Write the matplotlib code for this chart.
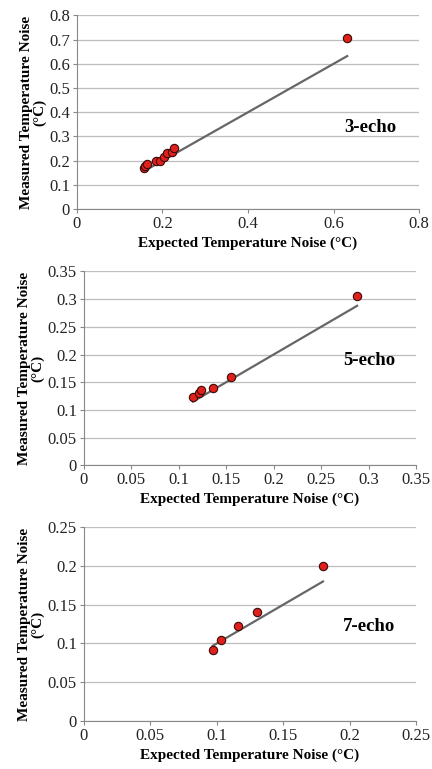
import numpy as np
import matplotlib.pyplot as plt

plt.rcParams['font.family'] = ['Liberation Serif', 'DejaVu Serif']

# ----- data -----
x3 = [0.158, 0.160, 0.163, 0.185, 0.195, 0.203, 0.210, 0.222, 0.227, 0.632]
y3 = [0.170, 0.180, 0.185, 0.200, 0.200, 0.215, 0.232, 0.235, 0.252, 0.708]
fit3 = [0.158, 0.632]

x5 = [0.115, 0.121, 0.123, 0.136, 0.155, 0.288]
y5 = [0.124, 0.130, 0.136, 0.140, 0.160, 0.305]
fit5 = [0.115, 0.288]

x7 = [0.097, 0.103, 0.116, 0.130, 0.180]
y7 = [0.091, 0.105, 0.122, 0.141, 0.200]
fit7 = [0.097, 0.180]

labels = ['3-echo', '5-echo', '7-echo']
limits = [0.8, 0.35, 0.25]
steps = [0.1, 0.05, 0.05]
xsteps = [0.2, 0.05, 0.05]
label_y = [0.338, 0.189, 0.122]

panels = [
    (x3, y3, fit3),
    (x5, y5, fit5),
    (x7, y7, fit7),
]
boxes = [
    [0.178, 0.728, 0.792, 0.252],
    [0.194, 0.395, 0.769, 0.252],
    [0.194, 0.0624, 0.769, 0.252],
]

fig = plt.figure(figsize=(4.32, 7.69), dpi=100)

for i, (xs, ys, fit) in enumerate(panels):
    ax = fig.add_axes(boxes[i])
    lim = limits[i]

    ax.plot(fit, fit, color='#666666', lw=1.6, zorder=2)
    ax.plot(xs, ys, 'o', ms=6, mfc='#e0201b', mec='#3a0a0a', mew=0.8, zorder=3)

    ax.set_xlim(0, lim)
    ax.set_ylim(0, lim)
    ax.set_xticks(np.round(np.arange(0, lim + 1e-9, xsteps[i]), 3))
    ax.set_yticks(np.round(np.arange(0, lim + 1e-9, steps[i]), 3))
    ax.set_xticklabels([f"{t:g}" for t in ax.get_xticks()])
    ax.set_yticklabels([f"{t:g}" for t in ax.get_yticks()])

    ax.yaxis.grid(True, color='#bdbdbd', lw=0.9)
    ax.set_axisbelow(True)
    for s in ['top', 'right']:
        ax.spines[s].set_visible(False)
    for s in ['left', 'bottom']:
        ax.spines[s].set_color('#888888')
    ax.tick_params(colors='#888888', labelcolor='#222222', labelsize=12, length=3, pad=2)

    ax.set_xlabel('Expected Temperature Noise (°C)', fontsize=11, fontweight='bold', labelpad=3)
    ax.set_ylabel('Measured Temperature Noise\n(°C)', fontsize=11, fontweight='bold',
                  linespacing=1.0, labelpad=2)

    ax.text(0.858 * lim, label_y[i], labels[i], fontsize=13.5, fontweight='bold', ha='center', va='center')

fig.savefig('out.png', dpi=100)
